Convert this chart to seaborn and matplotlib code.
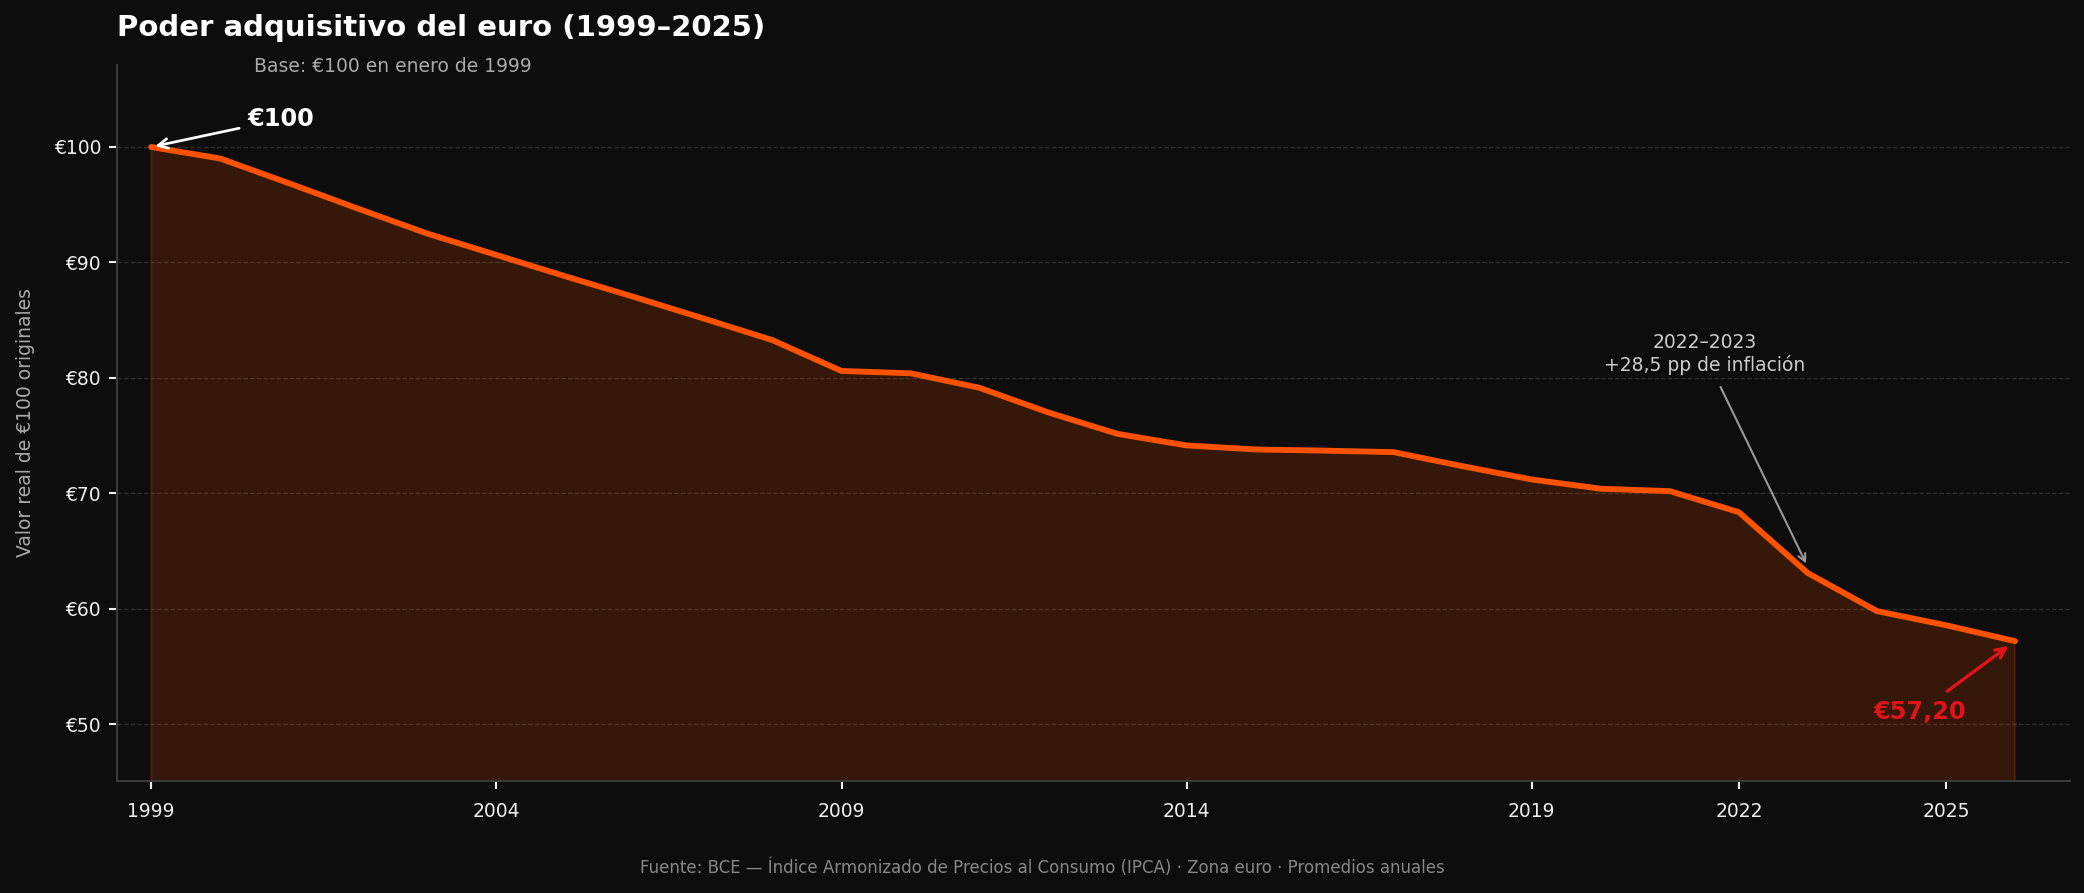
import matplotlib
matplotlib.use("Agg")
import matplotlib.pyplot as plt
import seaborn as sns
import pandas as pd

years = list(range(1999, 2027))
valor = [100.0, 99.0, 96.85, 94.65, 92.5, 90.65, 88.8, 87.0, 85.15, 83.27,
         80.6, 80.4, 79.14, 77.0, 75.15, 74.15, 73.8, 73.7, 73.57, 72.35,
         71.2, 70.4, 70.19, 68.37, 63.09, 59.8, 58.58, 57.2]
xticks = [1999, 2004, 2009, 2014, 2019, 2022, 2025]
yticks = [50, 60, 70, 80, 90, 100]
ytick_labels = ["€50", "€60", "€70", "€80", "€90", "€100"]

BG = "#0d0d0d"
LINE = "#ff5200"
RED = "#e0141a"

sns.set_theme(style="dark")
plt.rcParams["font.family"] = ["DejaVu Sans"]

df = pd.DataFrame({"year": years, "valor": valor})

fig = plt.figure(figsize=(2084 / 150, 893 / 150), dpi=150, facecolor=BG)
ax = fig.add_axes([0.056, 0.1256, 0.9374, 0.8016])
ax.set_facecolor(BG)

ax.fill_between(df["year"], df["valor"], 0, color=LINE, alpha=0.17, linewidth=1)
sns.lineplot(data=df, x="year", y="valor", ax=ax, color=LINE, linewidth=2.8)

ax.set_xlim(1998.5, 2026.8)
ax.set_ylim(45.1, 107.1)
ax.set_xticks(xticks)
ax.set_xticklabels([str(t) for t in xticks])
ax.set_yticks(yticks)
ax.set_yticklabels(ytick_labels)
ax.tick_params(axis="both", colors="#eeeeee", labelsize=9, length=4, width=1,
               bottom=True, left=True, labelcolor="#eeeeee")
ax.tick_params(axis="x", pad=6)
ax.grid(axis="y", linestyle="--", color="#2f2f2f", linewidth=0.6)
ax.grid(axis="x", visible=False)
for s in ["top", "right"]:
    ax.spines[s].set_visible(False)
for s in ["left", "bottom"]:
    ax.spines[s].set_visible(True)
    ax.spines[s].set_color("#3a3a3a")
    ax.spines[s].set_linewidth(1)

ax.set_xlabel("")
ax.set_ylabel("Valor real de €100 originales", color="#aaaaaa", fontsize=9, labelpad=9)

fig.text(0.056, 0.9686, "Poder adquisitivo del euro (1999–2025)", color="white",
         fontsize=14, fontweight="bold", ha="left", va="center")
ax.text(0.0702, 0.9986, "Base: €100 en enero de 1999", transform=ax.transAxes,
        color="#aaaaaa", fontsize=9, ha="left", va="center")
fig.text(0.5, 0.028, "Fuente: BCE — Índice Armonizado de Precios al Consumo (IPCA) · Zona euro · Promedios anuales",
         color="#888888", fontsize=8, ha="center", va="center")

ax.annotate("€100", xy=(1999, 100), xytext=(2000.4, 102.4), color="white",
            fontsize=11.5, fontweight="bold", ha="left", va="center",
            arrowprops=dict(arrowstyle="->", color="white", lw=1.3, shrinkA=2, shrinkB=2))

ax.annotate("2022–2023\n+28,5 pp de inflación", xy=(2023, 63.6), xytext=(2021.5, 82.1),
            color="#cccccc", fontsize=9, ha="center", va="center",
            arrowprops=dict(arrowstyle="->", color="#999999", lw=1.0, shrinkA=4, shrinkB=2))

ax.annotate("€57,20", xy=(2026, 57.2), xytext=(2024.62, 51.1), color=RED,
            fontsize=11.5, fontweight="bold", ha="center", va="center",
            arrowprops=dict(arrowstyle="->", color=RED, lw=1.6, shrinkA=3, shrinkB=4))

fig.savefig("out.png", dpi=150, facecolor=BG)
